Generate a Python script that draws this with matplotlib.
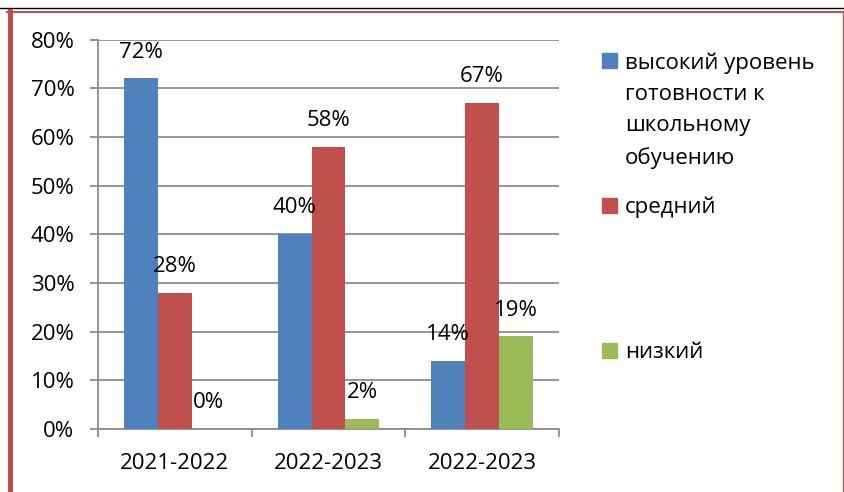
import matplotlib

matplotlib.use('Agg')

import matplotlib.pyplot as plt
from matplotlib.lines import Line2D
from matplotlib.patches import Rectangle
import numpy as np

plt.rcParams['font.family'] = ['Open Sans', 'DejaVu Sans']

years = ['2021-2022', '2022-2023', '2022-2023']
high = [72, 40, 14]
medium = [28, 58, 67]
low = [0, 2, 19]
series_names = ['высокий уровень\nготовности к\nшкольному\nобучению', 'средний', 'низкий']
colors = ['#4F81BD', '#C0504D', '#9BBB59']
y_ticks = [0, 10, 20, 30, 40, 50, 60, 70, 80]

FS = 16
W, H = 845, 492
fig = plt.figure(figsize=(W / 100, H / 100), dpi=100)

# page frame: black rule on top, red box round the chart
fig.add_artist(Line2D([0, 1], [1 - 7.5 / H, 1 - 7.5 / H], color='black', lw=1.0))
red = '#C0504D'
fig.add_artist(Line2D([9.8 / W, 9.8 / W], [0, 1 - 10.5 / H], color=red, lw=3.6))
fig.add_artist(Line2D([7.5 / W, 843 / W], [1 - 11.8 / H, 1 - 11.8 / H], color=red, lw=1.4))
fig.add_artist(Line2D([843 / W, 843 / W], [0, 1 - 11 / H], color=red, lw=1.0))

ax = fig.add_axes([98 / W, 1 - 429 / H, (559 - 98) / W, (429 - 39.5) / H])

x = np.arange(len(years))
width = 0.221
for i, (vals, col) in enumerate(zip([high, medium, low], colors)):
    pos = x + (i - 1) * width
    ax.bar(pos, vals, width=width, color=col, zorder=3)
    for px, v in zip(pos, vals):
        ax.annotate(f'{v}%', (px, v), xytext=(0, 19), textcoords='offset points',
                    ha='center', va='center', fontsize=FS, zorder=4)

ax.set_xlim(-0.5, 2.5)
ax.set_ylim(0, 80)
ax.set_yticks(y_ticks)
ax.set_yticklabels([f'{t}%' for t in y_ticks], fontsize=FS)
ax.yaxis.grid(True, color='#8c8c8c', lw=1.3, zorder=0)
ax.set_xticks([-0.5, 0.5, 1.5, 2.5])
ax.set_xticklabels([])
ax.set_xticks(x, minor=True)
ax.set_xticklabels(years, minor=True, fontsize=FS)
ax.tick_params(axis='x', which='major', length=6, width=1.3, color='#8c8c8c')
ax.tick_params(axis='x', which='minor', length=0, pad=17)
ax.tick_params(axis='y', length=6, width=1.3, color='#8c8c8c', pad=11)
for s in ['top', 'right']:
    ax.spines[s].set_visible(False)
for s in ['left', 'bottom']:
    ax.spines[s].set_color('#8c8c8c')
    ax.spines[s].set_linewidth(1.3)

# legend, laid out by hand like the Excel one
legend_y = [60.5, 205, 350]
for name, col, ly in zip(series_names, colors, legend_y):
    fig.add_artist(Rectangle((602 / W, 1 - (ly + 7.5) / H), 15 / W, 15 / H,
                             color=col, transform=fig.transFigure))
    fig.text(625 / W, 1 - (ly - 8) / H, name, fontsize=FS, ha='left', va='top',
             linespacing=1.64)

fig.savefig('out.png', dpi=100)
